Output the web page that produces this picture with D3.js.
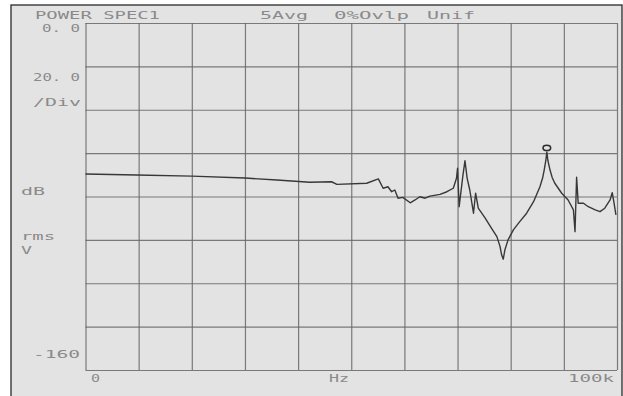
<!DOCTYPE html>
<html>
<head>
<meta charset="utf-8">
<script src="https://cdn.jsdelivr.net/npm/d3@7"></script>
<style>
  html, body { margin: 0; padding: 0; background: #fff; }
  svg text { font-family: "DejaVu Sans Mono", monospace; fill: #8a8a8a; }
</style>
</head>
<body>
<div id="chart"></div>
<script>
// spectrum trace: frequency (kHz) and level (dB rms V)
const freqKHz = [0, 9.6, 20, 30, 36, 42.2, 46.3, 47.3, 52.9, 55.1, 56, 56.9, 57.6, 58.2, 58.8, 59.7,
  61.1, 62, 62.9, 63.9, 64.8, 66.7, 68, 69.2, 69.8, 70, 70.3, 71, 71.4, 71.8, 72.3, 73, 73.4, 73.9, 75.2,
  76.4, 77.4, 78, 78.3, 78.6, 78.9, 79.5, 80.5, 81.7, 83, 84.3, 85.5, 86.0, 86.3, 86.6, 86.8, 87.0, 87.4,
  87.8, 88.3, 89.6, 90.8, 91.8, 92.1, 92.4, 92.7, 93.7, 94.6, 95.9, 96.8, 97.7, 98.7, 99.1, 99.4, 99.8];
const levelDb = [-69.6, -70.1, -70.6, -71.5, -72.4, -73.4, -73.2, -74.4, -73.9, -71.9, -76.2, -75.5,
  -77.8, -77, -80.8, -80.4, -82.9, -81.6, -80.1, -80.8, -79.8, -79, -77.8, -76.2, -71.6, -67,
  -84.7, -70.5, -63.5, -71.5, -77, -87.7, -78.5, -85.4, -90, -94.7, -98.5, -103.1, -107, -108.9,
  -104.7, -100, -95.4, -91.6, -87.7, -82.4, -75.5, -71.5, -67.8, -63.5, -59.5, -63.5, -67.8,
  -71.2, -73.9, -78.5, -81.6, -86.2, -96.2, -71.1, -83.1, -83.1, -84.7, -86.2, -87, -85.4, -81.6,
  -78.2, -82.4, -88.5];
const markerPoint = {f: 86.8, db: -57.6};

const headerTexts = ['POWER SPEC1', '5Avg', '0%Ovlp', 'Unif'];
const yLabels = ['0. 0', '20. 0', '/Div', 'dB', 'rms', 'V', '-160'];
const xLabels = ['0', 'Hz', '100k'];

const W = 623, H = 396;
const margins = {top: 23, right: 6, bottom: 26, left: 85.5};

const svg = d3.select('#chart').append('svg')
  .attr('width', W).attr('height', H);

// scanned page: white paper with a grey panel
svg.append('rect').attr('x', 0).attr('y', 0).attr('width', W).attr('height', H).attr('fill', '#ffffff');
svg.append('rect').attr('x', 11).attr('y', 5).attr('width', 611).attr('height', 400)
  .attr('fill', '#e3e3e3').attr('stroke', '#2a2a2a').attr('stroke-width', 1.3);

const x = d3.scaleLinear().domain([0, 100]).range([margins.left, W - margins.right]);
const y = d3.scaleLinear().domain([0, -160]).range([margins.top, H - margins.bottom]);

// grid
const grid = svg.append('g').attr('class', 'grid');
grid.append('g')
  .attr('transform', `translate(0,${y(-160)})`)
  .call(d3.axisBottom(x).tickValues(d3.range(0, 101, 10)).tickSize(-(y(-160) - y(0))).tickFormat(''));
grid.append('g')
  .attr('transform', `translate(${x(0)},0)`)
  .call(d3.axisLeft(y).tickValues(d3.range(0, -161, -20)).tickSize(-(x(100) - x(0))).tickFormat(''));
grid.selectAll('.domain').remove();
grid.selectAll('line').attr('stroke', '#666').attr('stroke-width', 1.2).attr('stroke-opacity', 0.85);

// trace
const trace = freqKHz.map((f, i) => ({f: f, db: levelDb[i]}));
const line = d3.line().x(d => x(d.f)).y(d => y(d.db));
svg.append('path')
  .datum(trace)
  .attr('d', line)
  .attr('fill', 'none')
  .attr('stroke', '#383838')
  .attr('stroke-width', 1.4)
  .attr('stroke-linejoin', 'round');

// peak marker
svg.append('ellipse')
  .attr('cx', x(markerPoint.f)).attr('cy', y(markerPoint.db))
  .attr('rx', 3.8).attr('ry', 2.6)
  .attr('fill', 'none').attr('stroke', '#2e2e2e').attr('stroke-width', 1.6);

// texts: plotter lettering, stretched to the widths seen on the print
function label(t, left, width, cy) {
  svg.append('text').attr('x', left).attr('y', cy)
    .attr('dominant-baseline', 'central')
    .attr('textLength', width)
    .attr('lengthAdjust', 'spacingAndGlyphs')
    .style('font-size', '11px')
    .text(t);
}
label(headerTexts[0], 35, 125, 15.5);
label(headerTexts[1], 260, 48, 15.5);
label(headerTexts[2], 334, 75, 15.5);
label(headerTexts[3], 427, 48, 15.5);

label(yLabels[0], 42, 38, 28);
label(yLabels[1], 33, 47, 77);
label(yLabels[2], 33, 48, 102);
label(yLabels[3], 21, 24, 191);
label(yLabels[4], 21, 34, 236.5);
label(yLabels[5], 21, 11, 250);
label(yLabels[6], 33, 47, 354.5);

label(xLabels[0], x(0) + 5.5, 9, 378);
label(xLabels[1], x(45.8), 20, 378);
label(xLabels[2], x(100) - 49, 46, 378);
</script>
</body>
</html>
